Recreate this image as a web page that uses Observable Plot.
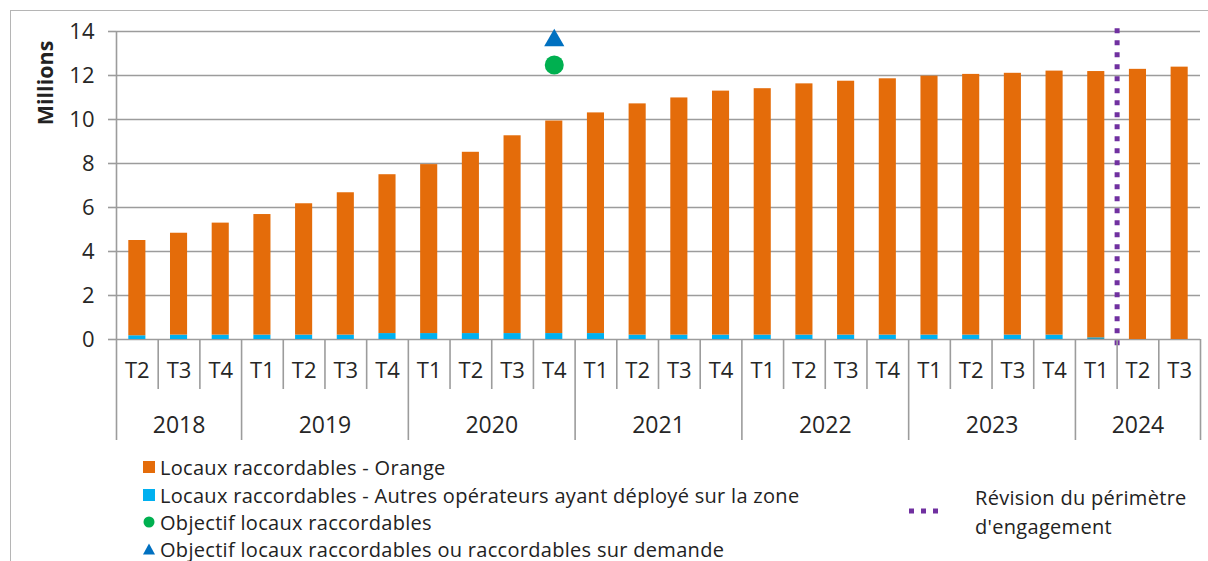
<!DOCTYPE html>
<html>
<head>
<meta charset="utf-8">
<script src="https://cdn.jsdelivr.net/npm/d3@7"></script>
<script src="https://cdn.jsdelivr.net/npm/@observablehq/plot@0.6"></script>
<style>
  html, body { margin: 0; padding: 0; background: #fff; }
  #wrap { position: relative; width: 1208px; height: 561px; overflow: hidden; font-family: "Open Sans", Lato, sans-serif; color: #222; }
  #frame { position: absolute; left: 10px; top: 10px; width: 1200px; height: 560px; border-left: 1.5px solid #b5b5b5; border-top: 1.5px solid #b5b5b5; }
  #chart { position: absolute; left: 0; top: 0; }
  #ylabel { position: absolute; left: 44px; top: 83px; transform: translate(-50%, -50%) rotate(-90deg); font-weight: bold; font-size: 21.5px; white-space: nowrap; }
  .leg { position: absolute; left: 143px; height: 26px; display: flex; align-items: center; font-size: 20px; letter-spacing: 0.3px; white-space: nowrap; }
  .sw { width: 17px; display: inline-flex; justify-content: flex-start; align-items: center; }
  #rev { position: absolute; left: 908px; top: 484px; }
  #revtext { position: absolute; left: 975px; top: 483px; width: 230px; font-size: 20px; letter-spacing: 0.3px; line-height: 29px; white-space: nowrap; }
</style>
</head>
<body>
<div id="wrap">
  <div id="frame"></div>
  <div id="chart"></div>
  <div id="ylabel">Millions</div>
  <div id="legend"></div>
  <svg id="rev" width="36" height="54"></svg>
  <div id="revtext"></div>
</div>
<script>
// ---- data ----
const quarters = ["T2","T3","T4","T1","T2","T3","T4","T1","T2","T3","T4","T1","T2","T3","T4","T1","T2","T3","T4","T1","T2","T3","T4","T1","T2","T3"];
const years = ["2018","2019","2020","2021","2022","2023","2024"];
const yearCounts = [3,4,4,4,4,4,3];
const orange = [4.33,4.63,5.09,5.48,5.97,6.47,7.22,7.68,8.24,8.99,9.66,10.03,10.51,10.78,11.09,11.2,11.42,11.54,11.65,11.77,11.85,11.9,12.0,12.1,12.28,12.38];
const autres = [0.17,0.2,0.2,0.2,0.2,0.2,0.27,0.27,0.27,0.27,0.27,0.27,0.2,0.2,0.2,0.2,0.2,0.2,0.2,0.2,0.2,0.2,0.2,0.08,0,0];
const objectifIndex = 10;          // 2020 T4
const objectifRaccordables = 12.48;
const objectifSurDemande = 13.6;
const revisionIndex = 24;          // between 2024 T1 and T2
const yTicks = [0,2,4,6,8,10,12,14];
const legendLabels = [
  "Locaux raccordables - Orange",
  "Locaux raccordables - Autres opérateurs ayant déployé sur la zone",
  "Objectif locaux raccordables",
  "Objectif locaux raccordables ou raccordables sur demande"
];
const revisionLabel = ["Révision du périmètre", "d'engagement"];

const colOrange = "#E46C0A", colBlue = "#00B0F0", colGreen = "#00B050", colTri = "#0070C0", colPurple = "#7030A0";

// ---- derived tables ----
const n = quarters.length;
const bars = [];
quarters.forEach((q, i) => {
  bars.push({i, y1: 0, y2: autres[i], fill: i === 23 ? "#2E9AB8" : colBlue});
  bars.push({i, y1: autres[i], y2: autres[i] + orange[i], fill: colOrange});
});
const yearStarts = [];
let acc = 0;
yearCounts.forEach(c => { yearStarts.push(acc); acc += c; });
yearStarts.push(acc);
const yearCenters = years.map((y, k) => ({v: yearStarts[k] + yearCounts[k] / 2, label: y}));
const quarterSeps = d3.range(0, n + 1).filter(i => !yearStarts.includes(i));
const pad = 0.295;
const gridColor = "#9c9c9c";
const font = "'Open Sans', Lato, sans-serif";

const chart = Plot.plot({
  width: 1208,
  height: 450,
  marginLeft: 116,
  marginRight: 8,
  marginTop: 31,
  marginBottom: 111,
  style: {fontFamily: font, background: "transparent", overflow: "visible"},
  x: {type: "linear", domain: [0, n]},
  y: {domain: [0, 14]},
  marks: [
    Plot.gridY(yTicks, {stroke: gridColor, strokeOpacity: 1, strokeWidth: 1.6}),
    Plot.axisY(yTicks, {tickSize: 8, tickPadding: 14, fontSize: 22, stroke: gridColor, strokeWidth: 1.6, fill: "#262626", label: null}),
    Plot.ruleX([0], {stroke: gridColor, strokeWidth: 1.6}),
    Plot.rectY(bars, {x1: d => d.i + pad, x2: d => d.i + 1 - pad, y1: "y1", y2: "y2", fill: "fill"}),
    Plot.dot([objectifRaccordables], {x: () => objectifIndex + 0.5, y: d => d, fill: colGreen, r: 9.5}),
    Plot.dot([objectifSurDemande], {x: () => objectifIndex + 0.5, y: d => d, fill: colTri, symbol: "triangle", r: 7.5}),
    Plot.ruleX([revisionIndex], {y1: -0.28, y2: 14.15, stroke: colPurple, strokeWidth: 5, strokeDasharray: "5,7"}),
    Plot.axisX(quarterSeps, {tickSize: 50, tickFormat: () => "", stroke: gridColor, strokeWidth: 1.6, label: null}),
    Plot.axisX(yearStarts, {tickSize: 101, tickFormat: () => "", stroke: gridColor, strokeWidth: 1.6, label: null}),
    Plot.axisX(d3.range(n).map(i => i + 0.5), {tickSize: 0, tickPadding: 23, fontSize: 22, fill: "#262626", tickFormat: d => quarters[Math.floor(d)], label: null}),
    Plot.axisX(yearCenters.map(d => d.v), {tickSize: 0, tickPadding: 77, fontSize: 23, fill: "#262626", tickFormat: (d, k) => yearCenters[k].label, label: null})
  ]
});
document.getElementById("chart").appendChild(chart);

// ---- legend ----
const legend = document.getElementById("legend");
const swatches = [
  `<svg width="14" height="14"><rect x="0" y="1" width="12" height="12" fill="${colOrange}"/></svg>`,
  `<svg width="14" height="14"><rect x="0" y="1" width="12" height="12" fill="${colBlue}"/></svg>`,
  `<svg width="14" height="14"><circle cx="6" cy="7" r="5.5" fill="${colGreen}"/></svg>`,
  `<svg width="14" height="14"><path d="M6,1.5 L12,12.5 L0,12.5 Z" fill="${colTri}"/></svg>`
];
const tops = [454, 482, 509, 536];
legendLabels.forEach((t, k) => {
  const div = document.createElement("div");
  div.className = "leg";
  div.style.top = tops[k] + "px";
  div.innerHTML = `<span class="sw">${swatches[k]}</span><span>${t}</span>`;
  legend.appendChild(div);
});
const rev = d3.select("#rev");
rev.append("line").attr("x1", 1).attr("x2", 31).attr("y1", 27).attr("y2", 27)
  .attr("stroke", colPurple).attr("stroke-width", 5).attr("stroke-dasharray", "5,7");
document.getElementById("revtext").innerHTML = revisionLabel.join("<br>");
</script>
</body>
</html>
